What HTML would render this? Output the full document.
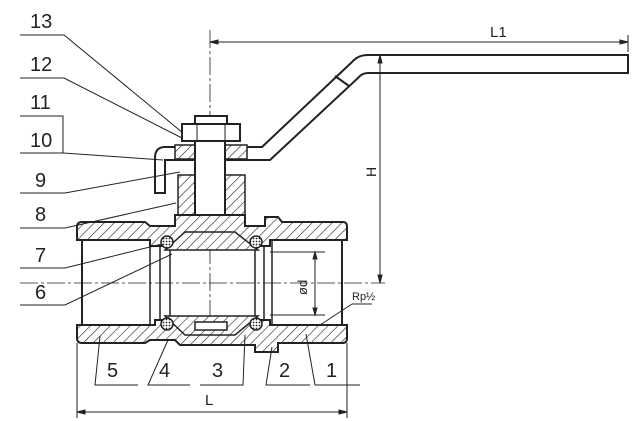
<!DOCTYPE html>
<html><head><meta charset="utf-8"><style>
html,body{margin:0;padding:0;background:#fff}
svg{display:block}
text{font-family:"Liberation Sans",sans-serif;fill:#222}
</style></head><body>
<svg width="634" height="421" viewBox="0 0 634 421" xmlns="http://www.w3.org/2000/svg">
<defs>
<pattern id="h" width="7" height="7" patternUnits="userSpaceOnUse" patternTransform="rotate(45)">
<rect width="7" height="7" fill="#fff"/><line x1="0" y1="0" x2="0" y2="7" stroke="#222" stroke-width="1.2"/></pattern>
<pattern id="d" width="3" height="3" patternUnits="userSpaceOnUse"><rect width="3" height="3" fill="#fff"/><circle cx="1.5" cy="1.5" r="0.9" fill="#222"/></pattern>
</defs>
<g stroke="#222" fill="none" stroke-width="1">
<line x1="210" y1="42" x2="628" y2="42"/>
<path d="M210 42 l8 -2 v4 z M628 42 l-8 -2 v4 z" fill="#222"/>
<line x1="628" y1="35" x2="628" y2="52"/>
<line x1="210" y1="30" x2="210" y2="340" stroke-dasharray="18 3 3 3" stroke-width="0.8"/>
<line x1="20" y1="283" x2="385" y2="283" stroke-dasharray="18 3 3 3" stroke-width="0.8"/>
<line x1="380" y1="55" x2="380" y2="283"/>
<path d="M380 55 l-2 8 h4 z M380 283 l-2 -8 h4 z" fill="#222"/>
<path d="M165 147 H262 L352 62 Q358 55 368 55 H628 V73 H368 Q362 73 358 78 L270 160 H180" stroke-width="2"/>
<line x1="335" y1="76" x2="349" y2="86" stroke-width="2"/>
<path d="M165 147 Q155 147 155 158 V193 H165 V160 H180" stroke-width="2"/>
<rect x="182" y="124" width="58" height="17" fill="#fff" stroke-width="2"/>
<rect x="195" y="116" width="32" height="8" fill="#fff" stroke-width="2"/>
<line x1="197" y1="124" x2="197" y2="141"/><line x1="225" y1="124" x2="225" y2="141"/>
<rect x="175" y="145" width="20" height="14" fill="url(#h)" stroke-width="1.5"/>
<rect x="225" y="145" width="22" height="14" fill="url(#h)" stroke-width="1.5"/>
<path d="M178 175 H195 V225 H178 Z" fill="url(#h)" stroke-width="1.5"/>
<path d="M225 175 H245 V225 H225 Z" fill="url(#h)" stroke-width="1.5"/>
<rect x="195" y="141" width="30" height="85" fill="#fff" stroke-width="2"/>
<rect x="190" y="222" width="40" height="10" fill="#fff" stroke-width="2"/>
<path d="M77 227 Q77 222 82 222 H145 L150 226 H175 V215 H245 V226 H265 V217 H278 L282 222 H343 Q347 222 347 227 V240 H270 V246 H150 V240 H77 Z" fill="url(#h)" stroke-width="2"/>
<path d="M77 325 H155 V320 H270 V325 H347 V338 Q347 343 343 343 H278 L278 352 H255 V345 H180 L175 340 H150 L145 343 H82 Q77 343 77 338 Z" fill="url(#h)" stroke-width="2"/>
<line x1="82" y1="240" x2="82" y2="325" stroke-width="2"/>
<line x1="342" y1="240" x2="342" y2="325" stroke-width="2"/>
<line x1="150" y1="240" x2="150" y2="325" stroke-width="1.5"/>
<line x1="272" y1="240" x2="272" y2="325" stroke-width="1.5"/>
<path d="M165 250 L185 232 H235 L258 250 Z" fill="url(#h)" stroke-width="1.5"/>
<path d="M165 316 L185 335 H235 L258 316 Z" fill="url(#h)" stroke-width="1.5"/>
<rect x="195" y="322" width="32" height="8" fill="#fff" stroke-width="1.5"/>
<line x1="170" y1="250" x2="170" y2="316" stroke-width="1.5"/>
<line x1="255" y1="250" x2="255" y2="316" stroke-width="1.5"/>
<line x1="160" y1="246" x2="160" y2="320" stroke-width="1.5"/>
<line x1="264" y1="246" x2="264" y2="320" stroke-width="1.5"/>
<circle cx="167" cy="242" r="6" fill="url(#d)" stroke-width="1.5"/>
<circle cx="256" cy="242" r="6" fill="url(#d)" stroke-width="1.5"/>
<circle cx="167" cy="324" r="6" fill="url(#d)" stroke-width="1.5"/>
<circle cx="256" cy="324" r="6" fill="url(#d)" stroke-width="1.5"/>
<line x1="270" y1="252" x2="325" y2="252"/><line x1="270" y1="315" x2="325" y2="315"/>
<line x1="315" y1="252" x2="315" y2="315"/>
<path d="M315 252 l-2 7 h4 z M315 315 l-2 -7 h4 z" fill="#222"/>
<line x1="320" y1="325" x2="352" y2="304"/><line x1="352" y1="304" x2="372" y2="304"/>
<line x1="77" y1="343" x2="77" y2="418"/><line x1="347" y1="343" x2="347" y2="418"/>
<line x1="77" y1="412" x2="347" y2="412"/>
<path d="M77 412 l8 -2 v4 z M347 412 l-8 -2 v4 z" fill="#222"/>
<path d="M20 35 H64 L183 133"/>
<path d="M20 78 H64 L182 138"/>
<path d="M20 116 H63 V153"/>
<path d="M20 153 H63 L163 160"/>
<path d="M20 193 H65 L180 172"/>
<path d="M20 228 H65 L176 203"/>
<path d="M20 268 H65 L162 244"/>
<path d="M20 305 H65 L172 254"/>
<path d="M138 385 H95 L100 336"/>
<path d="M190 385 H148 L168 340"/>
<path d="M200 385 H243 L245 335"/>
<path d="M310 385 H266 L272 347"/>
<path d="M360 385 H315 L306 334"/>
</g>
<g font-size="20">
<text x="30" y="28">13</text><text x="30" y="71">12</text><text x="30" y="109">11</text>
<text x="30" y="147">10</text><text x="35" y="187">9</text><text x="35" y="221">8</text>
<text x="35" y="262">7</text><text x="35" y="299">6</text>
<text x="107" y="377">5</text><text x="159" y="377">4</text><text x="212" y="377">3</text>
<text x="279" y="377">2</text><text x="326" y="377">1</text>
<text x="205" y="405" font-size="15">L</text>
<text x="490" y="37" font-size="15">L1</text>
<text x="0" y="0" font-size="14" transform="translate(376,177) rotate(-90)">H</text>
<text x="0" y="0" font-size="13" transform="translate(307,295) rotate(-90)">ød</text>
<text x="352" y="300" font-size="11">Rp½</text>
</g>
</svg>
</body></html>
